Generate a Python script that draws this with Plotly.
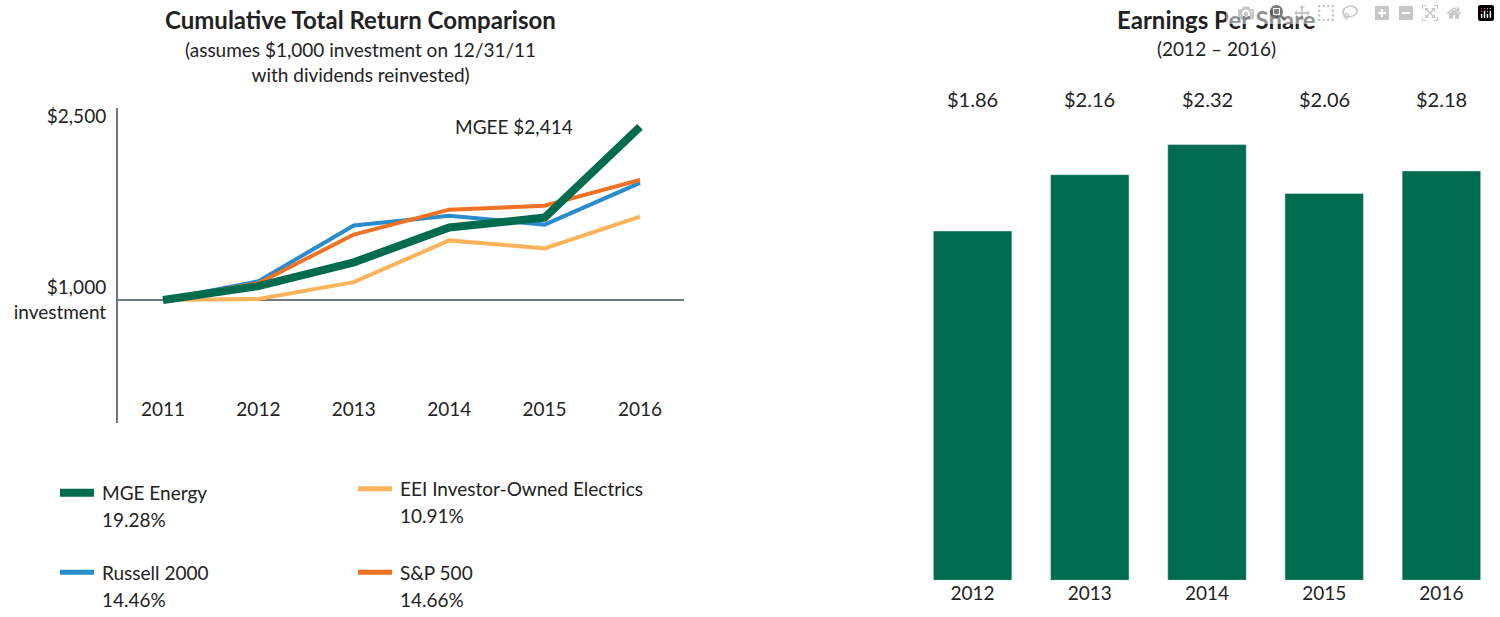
import plotly.graph_objects as go

years = [2011, 2012, 2013, 2014, 2015, 2016]
mgee = [1000, 1114, 1308, 1592, 1673, 2414]
sp500 = [1000, 1138, 1535, 1738, 1770, 1981]
russell = [1000, 1154, 1608, 1689, 1616, 1957]
eei = [1000, 1008, 1146, 1487, 1422, 1681]

eps_years = ["2012", "2013", "2014", "2015", "2016"]
eps = [1.86, 2.16, 2.32, 2.06, 2.18]
eps_labels = ["$1.86", "$2.16", "$2.32", "$2.06", "$2.18"]

legend_names = ["MGE Energy", "EEI Investor-Owned Electrics", "Russell 2000", "S&P 500"]
legend_pcts = ["19.28%", "10.91%", "14.46%", "14.66%"]

GREEN = "#006b4f"; ORANGE = "#f07122"; BLUE = "#2a8ccb"; LORANGE = "#fbb45c"
TXT = "#222222"
W, H = 1500, 617
px = lambda v: v / W
py = lambda v: 1 - v / H

fig = go.Figure()
for ys, c, w in [(eei, LORANGE, 4), (russell, BLUE, 4), (sp500, ORANGE, 4), (mgee, GREEN, 8)]:
    fig.add_trace(go.Scatter(x=years, y=ys, mode="lines", line=dict(color=c, width=w),
                             xaxis="x", yaxis="y", showlegend=False, hoverinfo="skip"))
fig.add_trace(go.Bar(x=eps_years, y=eps, marker_color=GREEN, xaxis="x2", yaxis="y2",
                     showlegend=False, hoverinfo="skip"))

x0 = 2011 - (163 - 118) / 95.4
x1 = 2011 + (684 - 163) / 95.4
ppu = 185 / 1500
ylo = 1000 - (422 - 298) / ppu
yhi = 1000 + (298 - 105) / ppu

fig.update_layout(
    autosize=True, margin=dict(l=0, r=0, t=0, b=0),
    paper_bgcolor="white", plot_bgcolor="white",
    font=dict(family="Lato, Open Sans, sans-serif", size=19, color=TXT),
    xaxis=dict(domain=[px(118), px(684)], range=[x0, x1], tickvals=years,
               ticklabelposition="inside", ticks="", showgrid=False, zeroline=False,
               showline=False, anchor="y", tickfont=dict(size=19, color=TXT)),
    yaxis=dict(domain=[py(422), py(105)], range=[ylo, yhi], tickvals=[1000, 2500],
               ticktext=["$1,000<br>investment", "$2,500"], showgrid=False, zeroline=False,
               showline=True, linecolor="#6b7b80", linewidth=2, ticks="", ticklabelstandoff=6,
               tickfont=dict(size=19, color=TXT)),
    xaxis2=dict(domain=[px(914), px(1500)], anchor="y2", type="category", showgrid=False,
                showline=False, ticks="", tickfont=dict(size=19, color=TXT)),
    yaxis2=dict(domain=[py(580), py(100)], range=[0, 480 / 189], visible=False),
    bargap=0.33,
)
fig.add_shape(type="line", xref="x", yref="y", x0=x0, x1=x1, y0=1000, y1=1000,
              line=dict(color="#6b7b80", width=2), layer="below")

ann = []
ann.append(dict(x=px(360), y=py(16), text="<b>Cumulative Total Return Comparison</b>", font=dict(size=24)))
ann.append(dict(x=px(360), y=py(58), text="(assumes $1,000 investment on 12/31/11<br>with dividends reinvested)", font=dict(size=19)))
ann.append(dict(x=px(1216), y=py(16), text="<b>Earnings Per Share</b>", font=dict(size=24)))
ann.append(dict(x=px(1216), y=py(45), text="(2012 – 2016)", font=dict(size=19)))
for i, lab in enumerate(eps_labels):
    ann.append(dict(x=i, xref="x2", y=py(96), text=lab, font=dict(size=20)))
ann.append(dict(x=2015, xref="x", y=2414, yref="y", text="MGEE $2,414", xanchor="right",
                xshift=30, font=dict(size=19)))
leg_pos = [(60, 492), (358, 488), (60, 572), (358, 572)]
leg_cols = [GREEN, LORANGE, BLUE, ORANGE]
leg_w = [8, 5, 5, 5]
for (lx, ly), name, pct, c, w in zip(leg_pos, legend_names, legend_pcts, leg_cols, leg_w):
    fig.add_shape(type="line", xref="paper", yref="paper", x0=px(lx), x1=px(lx + 34),
                  y0=py(ly), y1=py(ly), line=dict(color=c, width=w))
    ann.append(dict(x=px(lx + 40), y=py(ly), text=name, xanchor="left", font=dict(size=19)))
    ann.append(dict(x=px(lx + 40), y=py(ly + 27), text=pct, xanchor="left", font=dict(size=19)))
for a in ann:
    a.setdefault("xref", "paper"); a.setdefault("yref", "paper")
    a.setdefault("xanchor", "center"); a["yanchor"] = "middle"; a["showarrow"] = False
fig.update_layout(annotations=ann)
post = ("document.body.style.margin='0';document.body.style.overflow='hidden';"
        "var gd=document.getElementById('{plot_id}');gd.style.width='100vw';gd.style.height='100vh';"
        "Plotly.Plots.resize(gd);")
fig.write_html("out.html", default_width="100vw", default_height="100vh",
               config={"responsive": True}, post_script=post)
